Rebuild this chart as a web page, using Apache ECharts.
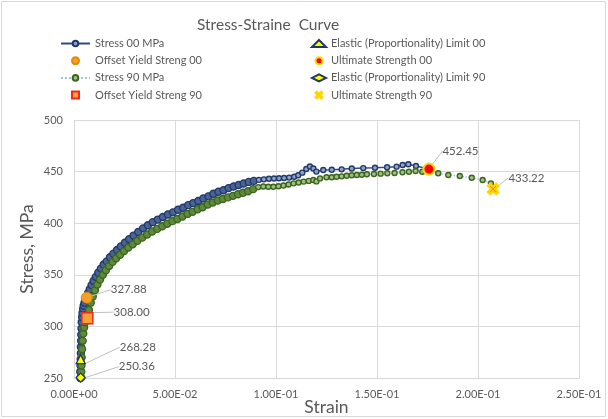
<!DOCTYPE html>
<html>
<head>
<meta charset="utf-8">
<script src="https://cdn.jsdelivr.net/npm/echarts@6/dist/echarts.min.js"></script>
<style>
  html, body { margin: 0; padding: 0; background: #fff; }
  #chart { width: 608px; height: 419px; }
</style>
</head>
<body>
<div id="chart"></div>
<script>
// strain / stress readings, specimen 00
var stress00 = [
  [0.0031, 250], [0.0031, 256], [0.0032, 262], [0.0033, 268.3], [0.0034, 274], [0.0034, 280],
  [0.0035, 286], [0.0036, 292], [0.0037, 298], [0.0038, 304], [0.0040, 309], [0.0042, 313],
  [0.0045, 317], [0.0048, 320], [0.0052, 323], [0.0057, 326], [0.0063, 329],
  [0.0070, 332.5], [0.0078, 336], [0.0087, 340], [0.0097, 344], [0.0108, 348], [0.0120, 352],
  [0.0133, 356], [0.0147, 360], [0.0162, 363], [0.0178, 367], [0.0195, 370.5], [0.0213, 374],
  [0.0232, 377.5], [0.0252, 381], [0.0273, 384.5], [0.0295, 388], [0.0318, 391.5], [0.0342, 395],
  [0.0366, 398], [0.0390, 401], [0.0415, 403.5], [0.0440, 406], [0.0465, 408.5], [0.0490, 410.5],
  [0.0515, 413], [0.0540, 415], [0.0565, 417.5], [0.0590, 419.5], [0.0615, 421.5], [0.0640, 424],
  [0.0665, 426], [0.0690, 428.5], [0.0715, 430.5], [0.0740, 432], [0.0765, 434], [0.0790, 435.5],
  [0.0815, 437], [0.0840, 438.5], [0.0865, 440], [0.0890, 441], [0.0915, 442], [0.0940, 442.5],
  [0.0965, 443], [0.0990, 443.3], [0.1015, 443.5], [0.1040, 443.8], [0.1065, 444.2], [0.1090, 445],
  [0.1110, 446.5], [0.1130, 449], [0.1150, 452.5], [0.1168, 455], [0.1185, 453], [0.1200, 450],
  [0.1234, 451.6], [0.1276, 451.8], [0.1325, 452.2], [0.1375, 453], [0.1432, 453.4], [0.1490, 453.7],
  [0.1550, 454.2], [0.1597, 454.8], [0.1627, 456.4], [0.1655, 457.1], [0.1693, 455.4], [0.1757, 452.45]
];
// specimen 90
var stress90 = [
  [0.0036, 250.36], [0.0036, 256], [0.0037, 262], [0.0038, 270], [0.0040, 278], [0.0043, 286],
  [0.0046, 293], [0.0050, 299], [0.0055, 304], [0.0060, 306.5], [0.0066, 308], [0.0074, 316], [0.0083, 323],
  [0.0093, 329], [0.0104, 335], [0.0116, 340.5], [0.0129, 345.5], [0.0143, 350], [0.0158, 354.5],
  [0.0174, 358.5], [0.0191, 362.5], [0.0209, 366], [0.0228, 369.5], [0.0248, 373], [0.0269, 376.5],
  [0.0291, 379.5], [0.0314, 383], [0.0338, 386], [0.0362, 389], [0.0387, 392], [0.0412, 394.5],
  [0.0437, 397], [0.0462, 399.5], [0.0487, 402], [0.0512, 404], [0.0537, 406.5], [0.0562, 409],
  [0.0587, 411], [0.0612, 413.5], [0.0637, 415.5], [0.0662, 418], [0.0687, 420], [0.0712, 422],
  [0.0737, 423.5], [0.0762, 425], [0.0787, 426.5], [0.0812, 428], [0.0837, 429.5], [0.0862, 431],
  [0.0887, 433], [0.0912, 435], [0.0937, 435.5], [0.0962, 435.3], [0.0987, 435.3], [0.1012, 435.8],
  [0.1037, 436.5], [0.1062, 437.5], [0.1087, 438.6], [0.1112, 439.5], [0.1137, 440.3], [0.1162, 441],
  [0.1185, 441.8], [0.1200, 440.5], [0.1218, 443.4], [0.1250, 444.5], [0.1276, 444.5], [0.1300, 445],
  [0.1325, 445.4], [0.1350, 446], [0.1375, 446.4], [0.1400, 446.7], [0.1425, 447], [0.1450, 447.4],
  [0.1485, 447.7], [0.1518, 448], [0.1551, 448.4], [0.1587, 448.6], [0.1626, 449.3], [0.1658, 449.9],
  [0.1691, 450.6], [0.1724, 449.9], [0.1803, 448.4], [0.1853, 446.7], [0.1910, 445.7], [0.1969, 444],
  [0.2023, 441.8], [0.2064, 438.6], [0.2075, 433.22]
];
// marked points
var elastic00 = [[0.0033, 268.28]];
var offset00 = [[0.0063, 327.88]];
var ultimate00 = [[0.1757, 452.45]];
var elastic90 = [[0.0033, 250.36]];
var offset90 = [[0.0066, 308.00]];
var ultimate90 = [[0.2075, 433.22]];

var xTicks = { min: 0, max: 0.25, step: 0.05 };
var yTicks = { min: 250, max: 500, step: 50 };

var FONT = 'Lato, "Liberation Sans", sans-serif';
var GREY = '#595959';

function sci(v) {
  var s = v.toExponential(2).split('e');
  var e = parseInt(s[1], 10);
  var sign = e < 0 ? '-' : '+';
  e = Math.abs(e);
  return s[0] + 'E' + sign + (e < 10 ? '0' + e : e);
}

// the dense start of each curve reads as a thick dark band of overlapping markers
function curvePoints(list, bandFill) {
  return list.map(function (p) {
    if (p[0] < 0.09) {
      return { value: p, symbolSize: 7, itemStyle: { color: bandFill } };
    }
    return { value: p, symbolSize: 5 };
  });
}

function pointLabel(dx, dy) {
  return {
    label: {
      show: true,
      position: 'right',
      distance: 5,
      color: GREY,
      fontSize: 11.5,
      fontFamily: FONT,
      formatter: function (p) { return p.value[1].toFixed(2); }
    },
    labelLayout: { dx: dx, dy: dy },
    labelLine: { show: true, lineStyle: { color: '#BFBFBF', width: 1 } }
  };
}

function marker(name, data, symbol, size, fill, border, bw, lab) {
  var s = {
    name: name,
    type: 'scatter',
    data: data,
    symbol: symbol,
    symbolSize: size,
    z: 5,
    itemStyle: { color: fill, borderColor: border, borderWidth: bw, opacity: 1 }
  };
  return Object.assign(s, lab);
}

var xPath = 'path://M0,2 L2,0 L5,3 L8,0 L10,2 L7,5 L10,8 L8,10 L5,7 L2,10 L0,8 L3,5 Z';
var squarePath = 'path://M0,0 L10,0 L10,10 L0,10 Z';

var myChart = echarts.init(document.getElementById('chart'));
var option = {
  animation: false,
  textStyle: { fontFamily: FONT },
  title: {
    text: 'Stress-Straine  Curve',
    left: 197,
    top: 17,
    padding: 0,
    textStyle: { color: GREY, fontSize: 15.5, fontWeight: 'normal', fontFamily: FONT }
  },
  legend: [{
    orient: 'vertical',
    left: 55,
    top: 33,
    itemWidth: 29,
    itemHeight: 7,
    itemGap: 6.2,
    textStyle: { color: GREY, fontSize: 11, fontFamily: FONT },
    data: ['Stress 00 MPa', 'Offset Yield Streng 00', 'Stress 90 MPa', 'Offset Yield Streng 90']
  }, {
    orient: 'vertical',
    left: 306,
    top: 33,
    itemWidth: 14,
    itemHeight: 7,
    itemGap: 6.2,
    textStyle: { color: GREY, fontSize: 11, fontFamily: FONT },
    data: ['Elastic (Proportionality) Limit 00', 'Ultimate Strength 00',
      'Elastic (Proportionality) Limit 90', 'Ultimate Strength 90']
  }],
  grid: { left: 74, right: 29, top: 120, bottom: 41, outerBoundsMode: 'none' },
  graphic: [{
    type: 'rect',
    shape: { x: 1.5, y: 1.5, width: 604, height: 415 },
    style: { fill: 'none', stroke: '#D9D9D9', lineWidth: 1 },
    silent: true
  }],
  xAxis: {
    type: 'value',
    min: xTicks.min,
    max: xTicks.max,
    interval: xTicks.step,
    name: 'Strain',
    nameLocation: 'middle',
    nameGap: 20,
    nameMoveOverlap: false,
    nameTextStyle: { color: GREY, fontSize: 17.5, fontFamily: FONT },
    axisLine: { show: true, lineStyle: { color: '#D9D9D9' } },
    axisTick: { show: false },
    splitLine: { show: true, lineStyle: { color: '#D9D9D9' } },
    axisLabel: { color: GREY, fontSize: 11, margin: 11, formatter: sci }
  },
  yAxis: {
    type: 'value',
    min: yTicks.min,
    max: yTicks.max,
    interval: yTicks.step,
    name: 'Stress, MPa',
    nameLocation: 'middle',
    nameGap: 38,
    nameMoveOverlap: false,
    nameTextStyle: { color: GREY, fontSize: 17.5, fontFamily: FONT },
    axisLine: { show: false },
    axisTick: { show: false },
    splitLine: { show: true, lineStyle: { color: '#D9D9D9' } },
    axisLabel: { color: GREY, fontSize: 11, margin: 11 }
  },
  series: [{
    name: 'Stress 00 MPa',
    type: 'line',
    data: curvePoints(stress00, '#4A6496'),
    symbol: 'circle',
    symbolSize: 5,
    showAllSymbol: true,
    z: 2,
    lineStyle: { color: '#2F4B7C', width: 1.5 },
    itemStyle: { color: '#8FA4C8', borderColor: '#22396A', borderWidth: 1.4 }
  },
  marker('Offset Yield Streng 00', offset00, 'circle', 11, '#F4A024', '#E08A10', 1, pointLabel(13, -8)),
  {
    name: 'Stress 90 MPa',
    type: 'line',
    data: curvePoints(stress90, '#5E8A3E'),
    symbol: 'circle',
    symbolSize: 5,
    showAllSymbol: true,
    z: 3,
    lineStyle: { color: '#9DC3E6', width: 1.5, type: 'dotted' },
    itemStyle: { color: '#9EBF82', borderColor: '#3D651D', borderWidth: 1.4 }
  },
  marker('Offset Yield Streng 90', offset90, squarePath, 11, '#F7A33A', '#F0281C', 1.5, pointLabel(15, -6)),
  marker('Elastic (Proportionality) Limit 00', elastic00, 'triangle', 9, '#FFFF00', '#1F3864', 1.3, pointLabel(29, -12)),
  marker('Ultimate Strength 00', ultimate00, 'circle', 11, '#FF0000', '#FFD700', 2, pointLabel(2, -18)),
  marker('Elastic (Proportionality) Limit 90', elastic90, 'diamond', 9, '#FFFF00', '#1F3864', 1.3, pointLabel(28, -11)),
  marker('Ultimate Strength 90', ultimate90, xPath, 10, '#FF1A1A', '#FFD700', 2.5, pointLabel(4, -11))
  ]
};
myChart.setOption(option);
</script>
</body>
</html>
